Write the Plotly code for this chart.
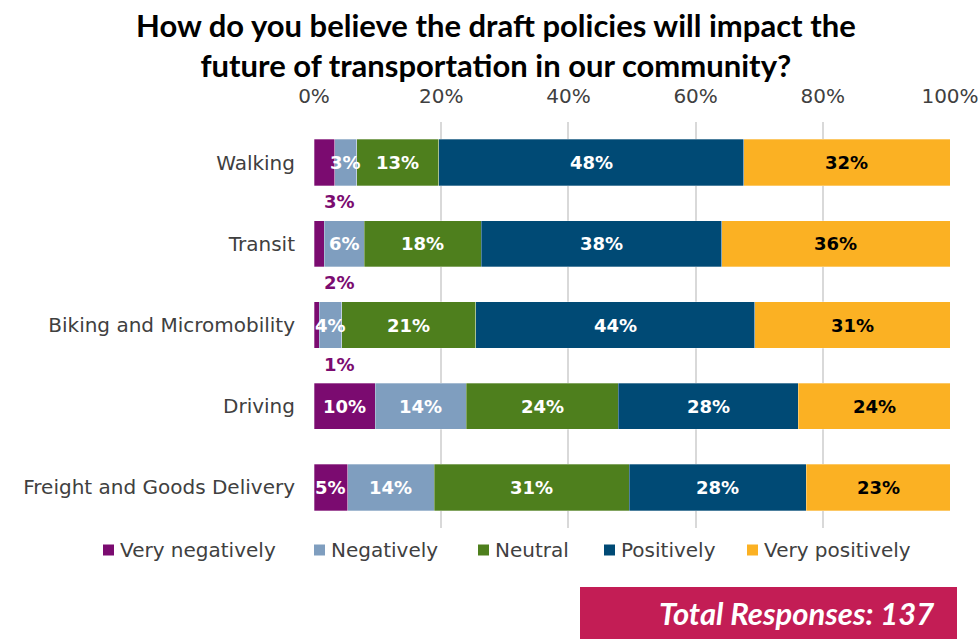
import plotly.graph_objects as go

categories = ["Walking", "Transit", "Biking and Micromobility", "Driving", "Freight and Goods Delivery"]
series_names = ["Very negatively", "Negatively", "Neutral", "Positively", "Very positively"]
very_negatively = [3.3, 1.6, 0.8, 9.6, 5.3]
negatively = [3.4, 6.3, 3.6, 14.3, 13.6]
neutral = [12.9, 18.4, 21.0, 23.9, 30.7]
positively = [48.0, 37.8, 43.9, 28.3, 27.8]
very_positively = [32.4, 35.9, 30.7, 23.9, 22.6]
x_ticks = [0, 20, 40, 60, 80, 100]
total_responses = 137
title_text = ("How do you believe the draft policies will impact the<br>"
              "future of transportation in our community?")

series_values = [very_negatively, negatively, neutral, positively, very_positively]
colors = ["#7B0B70", "#7F9EBF", "#4E7F1D", "#004A75", "#FBB123"]
text_colors = ["white", "white", "white", "white", "black"]

W, H = 979, 639
ML, MR, MT, MB = 314, 29, 122, 111
PW = W - ML - MR
PH = H - MT - MB


def px_x(px):
    return (px - ML) / PW


def px_y(py):
    return (H - MB - py) / PH


BODY = "DejaVu Sans"
TEXTGRAY = "#404040"

fig = go.Figure()
for name, vals, col in zip(series_names, series_values, colors):
    fig.add_trace(go.Bar(
        y=categories, x=vals, name=name, orientation="h",
        marker=dict(color=col, line=dict(color="rgba(255,255,255,0.5)", width=0.6)),
        hoverinfo="x+y+name", showlegend=False,
    ))

annotations = []
for ci, cat in enumerate(categories):
    cum = 0.0
    for si, vals in enumerate(series_values):
        v = vals[ci]
        label = f"{v:.0f}%"
        if si == 0 and v < 5:
            annotations.append(dict(
                x=4, y=cat, xref="x", yref="y", text=label, showarrow=False,
                yshift=-39, font=dict(family=BODY, size=18, color=colors[0], weight="bold"),
            ))
        else:
            annotations.append(dict(
                x=cum + v / 2, y=cat, xref="x", yref="y", text=label, showarrow=False,
                font=dict(family=BODY, size=18, color=text_colors[si], weight="bold"),
            ))
        cum += v

# Title
annotations.append(dict(
    x=px_x(496), y=px_y(45), xref="paper", yref="paper", xanchor="center", yanchor="middle",
    showarrow=False, text=f"<b>{title_text}</b>",
    font=dict(family="Lato", size=31, color="black"),
))

# Custom one-row legend
legend_left_px = [103, 314, 478, 604, 747]
SQ = 11
for name, col, lx in zip(series_names, colors, legend_left_px):
    fig.add_shape(type="rect", xref="paper", yref="paper",
                  x0=px_x(lx), x1=px_x(lx + SQ), y0=px_y(550 + SQ / 2), y1=px_y(550 - SQ / 2),
                  fillcolor=col, line=dict(width=0), layer="above")
    annotations.append(dict(
        x=px_x(lx + 15), y=px_y(550), xref="paper", yref="paper", xanchor="left", yanchor="middle",
        showarrow=False, text=name, font=dict(family=BODY, size=20, color=TEXTGRAY),
    ))

# Total responses box
fig.add_shape(type="rect", xref="paper", yref="paper",
              x0=px_x(580), x1=px_x(957), y0=px_y(639), y1=px_y(587),
              fillcolor="#C31D55", line=dict(width=0), layer="above")
annotations.append(dict(
    x=px_x(936), y=px_y(613), xref="paper", yref="paper",
    xanchor="right", yanchor="middle", showarrow=False,
    text=f"<b><i>Total Responses: {total_responses}</i></b>",
    font=dict(family="Lato", size=31, color="white"),
))

fig.update_layout(
    width=W, height=H,
    margin=dict(l=ML, r=MR, t=MT, b=MB, autoexpand=False),
    barmode="stack", bargap=0.43,
    plot_bgcolor="white", paper_bgcolor="white",
    showlegend=False,
    annotations=annotations,
    xaxis=dict(side="top", range=[0, 100], tickvals=x_ticks, ticktext=[f"{t}%" for t in x_ticks],
               showgrid=True, gridcolor="#D9D9D9", gridwidth=1.5, zeroline=False, showline=False,
               ticks="", ticklabelstandoff=14, fixedrange=True, automargin=False,
               tickfont=dict(family=BODY, size=20, color=TEXTGRAY)),
    yaxis=dict(range=[len(categories) - 0.5, -0.5], showgrid=False, zeroline=False, showline=False,
               ticks="", ticklabelstandoff=18, automargin=False,
               tickfont=dict(family=BODY, size=20, color=TEXTGRAY)),
)

fig.write_html("out.html")
